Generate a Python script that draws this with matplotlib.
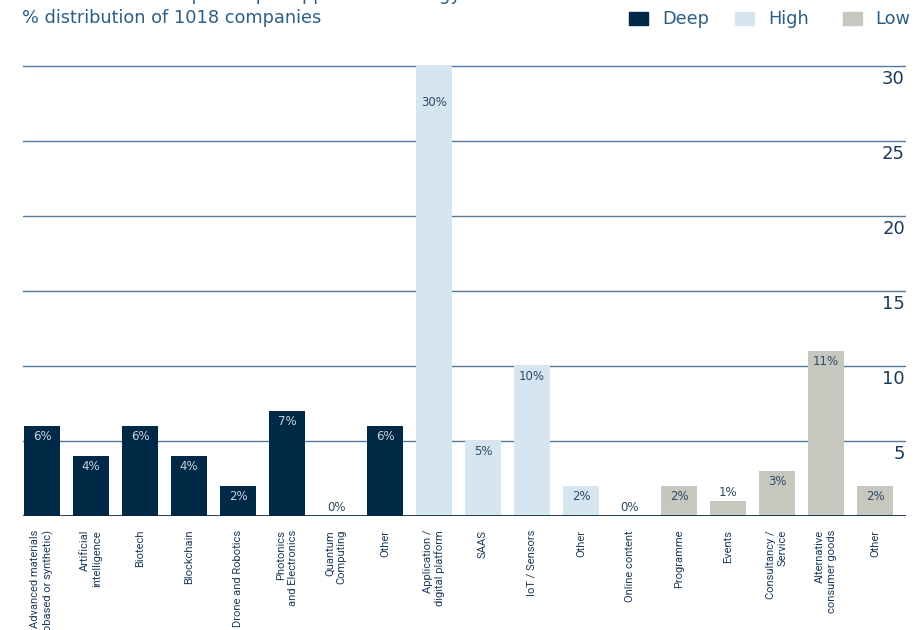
import numpy as np
import matplotlib
matplotlib.use("Agg")
import matplotlib.pyplot as plt
from matplotlib.patches import Rectangle

plt.rcParams['font.family'] = ['Roboto', 'DejaVu Sans']
wide = ['DejaVu Sans']

# share of companies (%) by applied technology, grouped by tech level
deep_labels = ["Advanced materials\n(biobased or synthetic)", "Artificial\nintelligence",
               "Biotech", "Blockchain", "Drone and Robotics", "Photonics\nand Electronics",
               "Quantum\nComputing", "Other"]
deep_vals = [6, 4, 6, 4, 2, 7, 0, 6]

high_labels = ["Application /\ndigital platform", "SAAS", "IoT / Sensors", "Other",
               "Online content"]
high_vals = [30, 5, 10, 2, 0]

low_labels = ["Programme", "Events", "Consultancy /\nService", "Alternative\nconsumer goods",
              "Other"]
low_vals = [2, 1, 3, 11, 2]

yticks = [5, 10, 15, 20, 25, 30]

c_deep = "#002847"
c_high = "#d5e6f0"
c_low = "#c8c7bf"
c_text = "#2b5f88"
c_dark = "#1b3a5a"

labels = deep_labels + high_labels + low_labels
vals = deep_vals + high_vals + low_vals
colors = [c_deep] * len(deep_vals) + [c_high] * len(high_vals) + [c_low] * len(low_vals)
x = np.arange(len(vals))

fig = plt.figure(figsize=(9.14, 6.30), dpi=100)
ymax = 30.1
ax = fig.add_axes([23 / 914, 114 / 630, 883 / 914, ymax * 15 / 630])

for y in yticks:
    ax.axhline(y, color="#55799b", lw=1.0, zorder=1)
ax.bar(x, vals, width=0.735, color=colors, zorder=2)
ax.axhline(0, color="#0d2a47", lw=2.0, zorder=3)

ax.set_xlim(-0.388, 17.633)
ax.set_ylim(0, ymax)
for s in ax.spines.values():
    s.set_visible(False)
ax.set_yticks([])
ax.set_xticks(x)
ax.set_xticklabels(labels, rotation=90, ha="center", va="top", multialignment="right",
                   fontsize=8, color=c_dark)
ax.tick_params(axis="x", length=0, pad=10)

# value labels
for xi, v, c in zip(x, vals, colors):
    tc = "#c9d3dd" if c == c_deep else "#2d4a66"
    if v >= 30:
        dy = -26
    elif v >= 2:
        dy = -7.5
    else:
        dy = 6
        tc = "#2d4a66"
    ax.annotate(f"{v}%", (xi, v), xytext=(0, dy), textcoords="offset points",
                ha="center", va="center", fontsize=8.5, color=tc, zorder=4, family=wide)

# right-hand scale, sitting under each gridline
for y in yticks:
    ax.annotate(str(y), (1, y), xycoords=("axes fraction", "data"), xytext=(-0.8, -9.5),
                textcoords="offset points", ha="right", va="center", fontsize=13,
                color=c_dark, family=wide)

fig.text(22 / 914, 1.0, "Distribution of companies per applied technology",
         ha="left", va="baseline", fontsize=12.8, color=c_text, family=wide)
fig.text(22 / 914, 1 - 18 / 630, "% distribution of 1018 companies", ha="left",
         va="center", fontsize=12.8, color=c_text, family=wide)

# legend
for (lx, tx), name, col in zip([(629, 662), (735, 768), (843, 875)],
                               ["Deep", "High", "Low"], [c_deep, c_high, c_low]):
    fig.patches.append(Rectangle((lx / 914, 1 - 25 / 630), 19 / 914, 13 / 630,
                                 transform=fig.transFigure, color=col))
    fig.text(tx / 914, 1 - 19 / 630, name, ha="left", va="center", fontsize=12.8,
             color=c_text, family=wide)

plt.savefig("out.png", dpi=100)
